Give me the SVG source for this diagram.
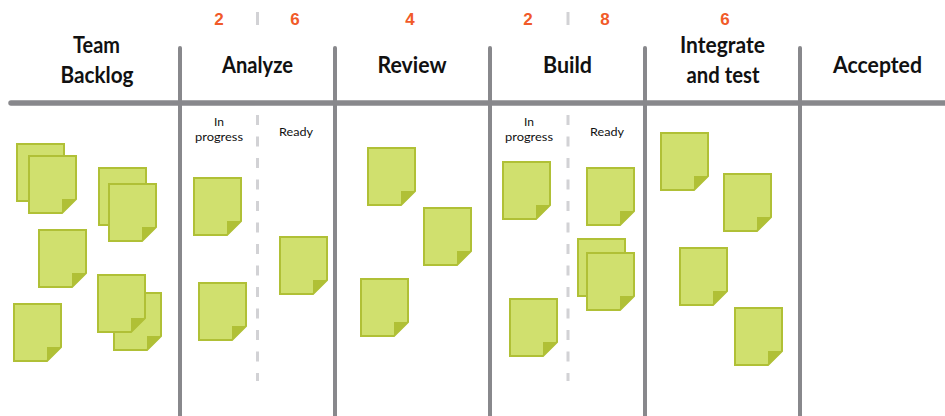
<svg xmlns="http://www.w3.org/2000/svg" xmlns:xlink="http://www.w3.org/1999/xlink" width="945" height="416" viewBox="0 0 945 416">
  <style>
    .title { font-family: Lato, "Liberation Sans", Arial, sans-serif; font-weight: 700; font-size: 22px; fill: #111; text-anchor: middle; }
    .sub { font-family: Lato, "Liberation Sans", Arial, sans-serif; font-size: 12px; fill: #111; text-anchor: middle; }
    .wip { font-family: "Liberation Sans", Arial, sans-serif; font-weight: 700; font-size: 17px; fill: #f15a29; text-anchor: middle; }
    .rule { stroke: #88888c; fill: none; }
    .split { stroke: #d2d2d5; stroke-width: 3; fill: none; }
    .sheet { fill: #d0e06e; stroke: #b0c036; stroke-width: 2; stroke-linejoin: miter; }
    .fold { fill: #b0c036; }
  </style>
  <defs>
    <!-- one sticky note, 49 x 59, with folded lower-right corner -->
    <g id="note">
      <path class="sheet" d="M1,1 H48 V44 L34,58 H1 Z"/>
      <path class="fold" d="M34,44 H48 L34,58 Z"/>
    </g>
  </defs>

  <rect width="945" height="416" fill="#ffffff"/>

  <!-- board lines -->
  <g id="connectors">
    <line class="rule" x1="11" y1="103" x2="945" y2="103" stroke-width="5.5" stroke-linecap="round"/>
    <line class="rule" x1="180" y1="48" x2="180" y2="416" stroke-width="4" stroke-linecap="round"/>
    <line class="rule" x1="335" y1="48" x2="335" y2="416" stroke-width="4" stroke-linecap="round"/>
    <line class="rule" x1="490" y1="48" x2="490" y2="416" stroke-width="4" stroke-linecap="round"/>
    <line class="rule" x1="645" y1="48" x2="645" y2="416" stroke-width="4" stroke-linecap="round"/>
    <line class="rule" x1="800" y1="48" x2="800" y2="416" stroke-width="4" stroke-linecap="round"/>
    <!-- sub-column splits -->
    <line class="split" x1="257.5" y1="12" x2="257.5" y2="25"/>
    <line class="split" x1="568" y1="12" x2="568" y2="25"/>
    <line class="split" x1="257.5" y1="115" x2="257.5" y2="381" stroke-dasharray="10 11.5"/>
    <line class="split" x1="568" y1="115" x2="568" y2="381" stroke-dasharray="10 11.5"/>
  </g>

  <!-- column headers -->
  <g id="col-backlog">
    <text class="title" x="96.5" y="53" textLength="47" lengthAdjust="spacingAndGlyphs">Team</text>
    <text class="title" x="97" y="83" textLength="73" lengthAdjust="spacingAndGlyphs">Backlog</text>
  </g>
  <g id="col-analyze">
    <text class="wip" x="219" y="24.5">2</text>
    <text class="wip" x="295" y="24.5">6</text>
    <text class="title" x="257.5" y="73" textLength="71" lengthAdjust="spacingAndGlyphs">Analyze</text>
    <text class="sub" x="219" y="125.5">In</text>
    <text class="sub" x="219" y="140.5" textLength="48" lengthAdjust="spacingAndGlyphs">progress</text>
    <text class="sub" x="296" y="136" textLength="34" lengthAdjust="spacingAndGlyphs">Ready</text>
  </g>
  <g id="col-review">
    <text class="wip" x="410" y="24.5">4</text>
    <text class="title" x="412" y="73" textLength="69" lengthAdjust="spacingAndGlyphs">Review</text>
  </g>
  <g id="col-build">
    <text class="wip" x="528" y="24.5">2</text>
    <text class="wip" x="605" y="24.5">8</text>
    <text class="title" x="567.5" y="73" textLength="49" lengthAdjust="spacingAndGlyphs">Build</text>
    <text class="sub" x="529" y="125.5">In</text>
    <text class="sub" x="529" y="140.5" textLength="48" lengthAdjust="spacingAndGlyphs">progress</text>
    <text class="sub" x="607" y="136" textLength="34" lengthAdjust="spacingAndGlyphs">Ready</text>
  </g>
  <g id="col-integrate">
    <text class="wip" x="725" y="24.5">6</text>
    <text class="title" x="722.5" y="53" textLength="85" lengthAdjust="spacingAndGlyphs">Integrate</text>
    <text class="title" x="723" y="83" textLength="73" lengthAdjust="spacingAndGlyphs">and test</text>
  </g>
  <g id="col-accepted">
    <text class="title" x="877.5" y="73" textLength="89" lengthAdjust="spacingAndGlyphs">Accepted</text>
  </g>

  <!-- backlog notes -->
  <g id="note-b1"><use xlink:href="#note" x="16" y="143"/></g>
  <g id="note-b2"><use xlink:href="#note" x="28" y="155"/></g>
  <g id="note-b3"><use xlink:href="#note" x="98" y="167"/></g>
  <g id="note-b4"><use xlink:href="#note" x="108" y="183"/></g>
  <g id="note-b5"><use xlink:href="#note" x="38" y="229"/></g>
  <g id="note-b6"><use xlink:href="#note" x="13" y="303"/></g>
  <g id="note-b7"><use xlink:href="#note" x="113" y="292"/></g>
  <g id="note-b8"><use xlink:href="#note" x="97" y="274"/></g>

  <!-- analyze notes -->
  <g id="note-a1"><use xlink:href="#note" x="193" y="177"/></g>
  <g id="note-a2"><use xlink:href="#note" x="198" y="282"/></g>
  <g id="note-a3"><use xlink:href="#note" x="279" y="236"/></g>

  <!-- review notes -->
  <g id="note-r1"><use xlink:href="#note" x="367" y="147"/></g>
  <g id="note-r2"><use xlink:href="#note" x="423" y="207"/></g>
  <g id="note-r3"><use xlink:href="#note" x="360" y="278"/></g>

  <!-- build notes -->
  <g id="note-u1"><use xlink:href="#note" x="502" y="161"/></g>
  <g id="note-u2"><use xlink:href="#note" x="509" y="298"/></g>
  <g id="note-u3"><use xlink:href="#note" x="586" y="167"/></g>
  <g id="note-u4"><use xlink:href="#note" x="577" y="238"/></g>
  <g id="note-u5"><use xlink:href="#note" x="586" y="252"/></g>

  <!-- integrate and test notes -->
  <g id="note-i1"><use xlink:href="#note" x="660" y="132"/></g>
  <g id="note-i2"><use xlink:href="#note" x="723" y="173"/></g>
  <g id="note-i3"><use xlink:href="#note" x="679" y="247"/></g>
  <g id="note-i4"><use xlink:href="#note" x="734" y="307"/></g>
</svg>
